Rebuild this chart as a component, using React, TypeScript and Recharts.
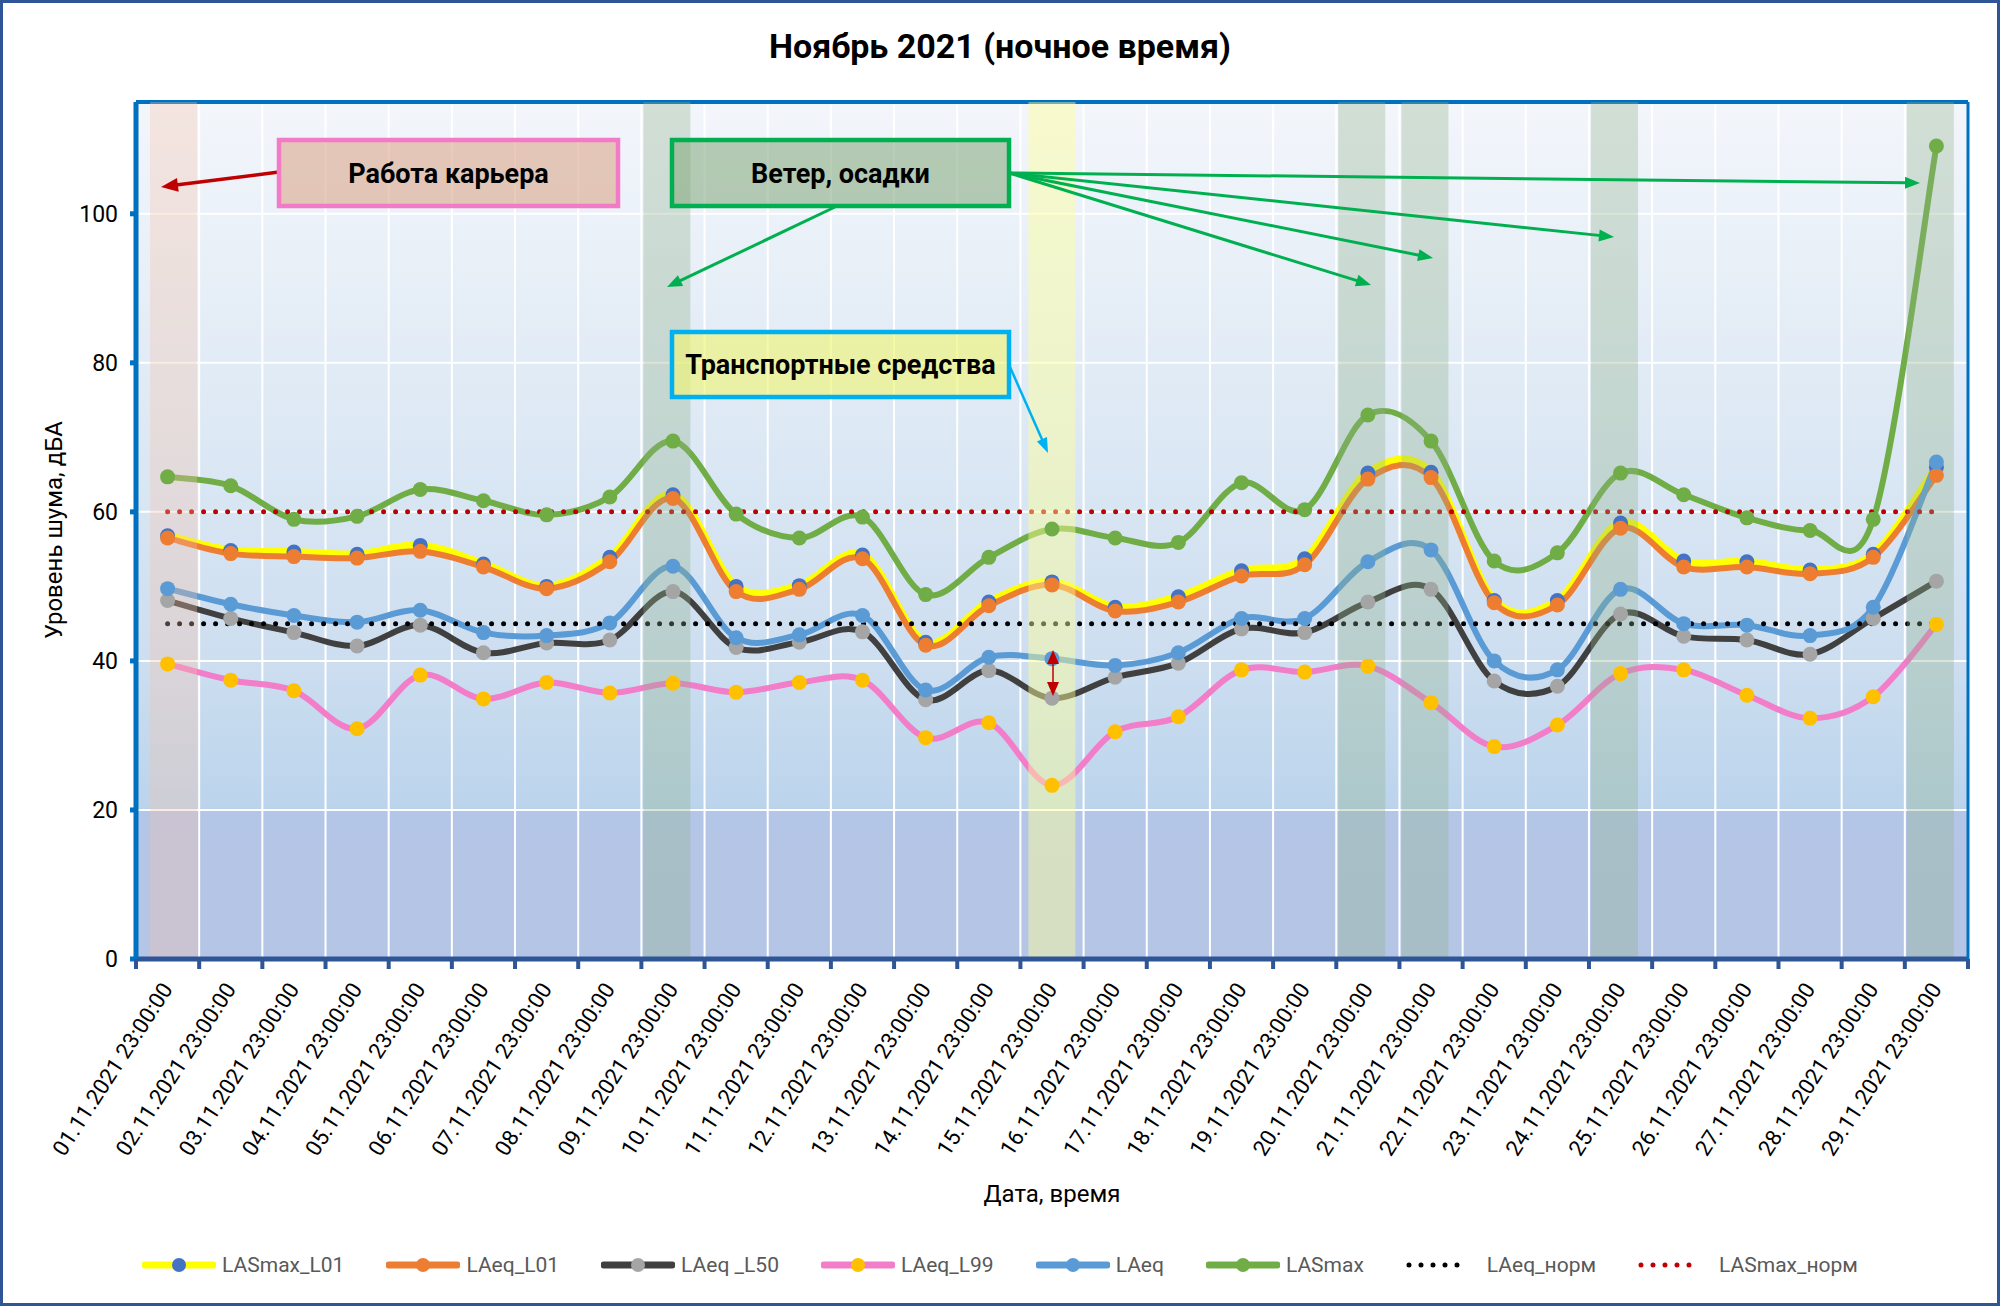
import React from 'react';
import { ComposedChart, Line, Bar, XAxis, YAxis, CartesianGrid, Legend, ReferenceLine } from 'recharts';

const FONT = 'Roboto, "Noto Sans", "DejaVu Sans", sans-serif';

// ---------- data ----------
const dates = [
  '01.11.2021 23:00:00', '02.11.2021 23:00:00', '03.11.2021 23:00:00', '04.11.2021 23:00:00',
  '05.11.2021 23:00:00', '06.11.2021 23:00:00', '07.11.2021 23:00:00', '08.11.2021 23:00:00',
  '09.11.2021 23:00:00', '10.11.2021 23:00:00', '11.11.2021 23:00:00', '12.11.2021 23:00:00',
  '13.11.2021 23:00:00', '14.11.2021 23:00:00', '15.11.2021 23:00:00', '16.11.2021 23:00:00',
  '17.11.2021 23:00:00', '18.11.2021 23:00:00', '19.11.2021 23:00:00', '20.11.2021 23:00:00',
  '21.11.2021 23:00:00', '22.11.2021 23:00:00', '23.11.2021 23:00:00', '24.11.2021 23:00:00',
  '25.11.2021 23:00:00', '26.11.2021 23:00:00', '27.11.2021 23:00:00', '28.11.2021 23:00:00',
  '29.11.2021 23:00:00',
];

const lasmaxL01 = [56.8, 54.8, 54.6, 54.3, 55.5, 53.0, 50.0, 53.9, 62.3, 50.0, 50.1, 54.2, 42.5, 47.9, 50.6, 47.2, 48.6, 52.1, 53.7, 65.2, 65.3, 48.1, 48.1, 58.5, 53.4, 53.3, 52.2, 54.3, 66.0];
const laeqL01 = [56.5, 54.4, 54.0, 53.8, 54.7, 52.6, 49.7, 53.3, 61.8, 49.3, 49.6, 53.7, 42.1, 47.4, 50.2, 46.7, 47.9, 51.4, 52.9, 64.4, 64.6, 47.8, 47.5, 57.8, 52.6, 52.6, 51.7, 53.9, 64.9];
const laeqL50 = [48.1, 45.7, 43.8, 42.0, 44.8, 41.1, 42.4, 42.8, 49.3, 41.8, 42.5, 43.9, 34.8, 38.7, 35.0, 37.8, 39.7, 44.3, 43.8, 47.9, 49.6, 37.3, 36.6, 46.3, 43.3, 42.8, 40.9, 45.7, 50.7];
const laeqL99 = [39.6, 37.4, 36.0, 30.9, 38.1, 34.9, 37.1, 35.7, 37.0, 35.8, 37.1, 37.4, 29.7, 31.7, 23.3, 30.5, 32.5, 38.8, 38.5, 39.3, 34.4, 28.5, 31.4, 38.3, 38.8, 35.4, 32.3, 35.2, 44.9];
const laeq = [49.7, 47.6, 46.1, 45.2, 46.8, 43.8, 43.4, 45.1, 52.7, 43.1, 43.5, 46.1, 36.1, 40.5, 40.3, 39.4, 41.1, 45.7, 45.7, 53.3, 54.9, 40.0, 38.8, 49.6, 45.0, 44.8, 43.4, 47.2, 66.7];
const lasmax = [64.7, 63.5, 59.0, 59.4, 63.0, 61.5, 59.6, 62.0, 69.5, 59.7, 56.5, 59.3, 48.9, 53.9, 57.7, 56.5, 55.9, 63.9, 60.3, 73.0, 69.5, 53.4, 54.5, 65.2, 62.3, 59.2, 57.5, 59.0, 109.1];
const laeqNorm = [45, 45, 45, 45, 45, 45, 45, 45, 45, 45, 45, 45, 45, 45, 45, 45, 45, 45, 45, 45, 45, 45, 45, 45, 45, 45, 45, 45, 45];
const lasmaxNorm = [60, 60, 60, 60, 60, 60, 60, 60, 60, 60, 60, 60, 60, 60, 60, 60, 60, 60, 60, 60, 60, 60, 60, 60, 60, 60, 60, 60, 60];

// highlight columns (quarry work / wind & precipitation / vehicles)
const windBand = [null, null, null, null, null, null, null, null, 115, null, null, null, null, null, null, null, null, null, null, 115, 115, null, null, 115, null, null, null, null, 115];
const trafficBand = [null, null, null, null, null, null, null, null, null, null, null, null, null, null, 115, null, null, null, null, null, null, null, null, null, null, null, null, null, null];
const quarryBand = [115, null, null, null, null, null, null, null, null, null, null, null, null, null, null, null, null, null, null, null, null, null, null, null, null, null, null, null, null];

const yTicks = [0, 20, 40, 60, 80, 100];
const Y_MAX = 115;

const data = dates.map((date, i) => ({
  date,
  lasmaxL01: lasmaxL01[i],
  laeqL01: laeqL01[i],
  laeqL50: laeqL50[i],
  laeqL99: laeqL99[i],
  laeq: laeq[i],
  lasmax: lasmax[i],
  laeqNorm: laeqNorm[i],
  lasmaxNorm: lasmaxNorm[i],
  windBand: windBand[i],
  trafficBand: trafficBand[i],
  quarryBand: quarryBand[i],
}));

// ---------- styles ----------
const lineSeries = [
  { key: 'lasmaxL01', name: 'LASmax_L01', stroke: '#FFFF00', marker: '#4472C4', width: 8 },
  { key: 'laeqL01', name: 'LAeq_L01', stroke: '#ED7D31', marker: '#ED7D31', width: 6 },
  { key: 'laeqL50', name: 'LAeq _L50', stroke: '#404040', marker: '#A5A5A5', width: 6 },
  { key: 'laeqL99', name: 'LAeq_L99', stroke: '#F27DC8', marker: '#FFC000', width: 6 },
  { key: 'laeq', name: 'LAeq', stroke: '#5B9BD5', marker: '#5B9BD5', width: 6 },
  { key: 'lasmax', name: 'LASmax', stroke: '#70AD47', marker: '#70AD47', width: 6 },
];
const normSeries = [
  { key: 'laeqNorm', name: 'LAeq_норм', stroke: '#000000' },
  { key: 'lasmaxNorm', name: 'LASmax_норм', stroke: '#C00000' },
];

// Excel-like smoothing (Catmull-Rom through the points)
const excelSmooth: any = (context: any) => {
  let pts: number[][] = [];
  return {
    areaStart() {},
    areaEnd() {},
    lineStart() { pts = []; },
    point(x: number, y: number) { pts.push([+x, +y]); },
    lineEnd() {
      const n = pts.length;
      if (!n) return;
      context.moveTo(pts[0][0], pts[0][1]);
      for (let i = 0; i < n - 1; i++) {
        const p0 = pts[i > 0 ? i - 1 : i];
        const p1 = pts[i];
        const p2 = pts[i + 1];
        const p3 = pts[i + 2 < n ? i + 2 : i + 1];
        context.bezierCurveTo(
          p1[0] + (p2[0] - p0[0]) / 6, p1[1] + (p2[1] - p0[1]) / 6,
          p2[0] - (p3[0] - p1[0]) / 6, p2[1] - (p3[1] - p1[1]) / 6,
          p2[0], p2[1],
        );
      }
    },
  };
};

const W = 2000;
const H = 1306;
const MARGIN = { top: 102, right: 28, bottom: 21, left: 56 };
const PLOT_W = W - MARGIN.left - 80 - MARGIN.right - 4;

const XTick = (props: any) => {
  const { x, y, payload, index } = props;
  const half = (payload && payload.offset) || PLOT_W / dates.length / 2;
  return (
    <g>
      <line x1={x - half} y1={y} x2={x - half} y2={y + 10} stroke="#2F5597" strokeWidth={4} />
      {index === dates.length - 1 && (
        <line x1={x + half} y1={y} x2={x + half} y2={y + 10} stroke="#2F5597" strokeWidth={4} />
      )}
      <text
        transform={`translate(${x + 6},${y + 30}) rotate(-57)`}
        textAnchor="end"
        fontSize={22}
        fontFamily={FONT}
        fill="#000"
      >
        {payload.value}
      </text>
    </g>
  );
};

const renderLegend = () => (
  <div
    style={{
      display: 'flex', justifyContent: 'center', alignItems: 'center', gap: 42, height: 40,
      fontFamily: FONT, fontSize: 21, color: '#595959', whiteSpace: 'pre',
    }}
  >
    {lineSeries.map((s) => (
      <div key={s.key} style={{ display: 'flex', alignItems: 'center' }}>
        <svg width={74} height={20}>
          <line x1={3} y1={10} x2={71} y2={10} stroke={s.stroke} strokeWidth={7} strokeLinecap="round" />
          <circle cx={37} cy={10} r={7} fill={s.marker} />
        </svg>
        <span style={{ marginLeft: 6 }}>{s.name}</span>
      </div>
    ))}
    {normSeries.map((s) => (
      <div key={s.key} style={{ display: 'flex', alignItems: 'center' }}>
        <svg width={66} height={20}>
          <line x1={3} y1={10} x2={63} y2={10} stroke={s.stroke} strokeWidth={5} strokeLinecap="round" strokeDasharray="0 12" />
        </svg>
        <span style={{ marginLeft: 15 }}>{s.name}</span>
      </div>
    ))}
  </div>
);

const Arrow = ({ x1, y1, x2, y2, color, width, head = 15, headW = 12 }: any) => {
  const dx = x2 - x1;
  const dy = y2 - y1;
  const len = Math.hypot(dx, dy);
  const ux = dx / len;
  const uy = dy / len;
  const bx = x2 - ux * head;
  const by = y2 - uy * head;
  const px = (-uy * headW) / 2;
  const py = (ux * headW) / 2;
  return (
    <g>
      <line x1={x1} y1={y1} x2={bx + ux * 2} y2={by + uy * 2} stroke={color} strokeWidth={width} />
      <polygon points={`${x2},${y2} ${bx + px},${by + py} ${bx - px},${by - py}`} fill={color} />
    </g>
  );
};

const NoteBox = ({ x, y, w, h, fill, fillOpacity, stroke, text }: any) => (
  <g>
    <rect x={x} y={y} width={w} height={h} fill={fill} fillOpacity={fillOpacity} stroke={stroke} strokeWidth={4.5} />
    <text x={x + w / 2} y={y + h / 2} dy="0.36em" textAnchor="middle" fontFamily={FONT} fontWeight="bold" fontSize={27} fill="#000">
      {text}
    </text>
  </g>
);

export default function App() {
  return (
    <div style={{ position: 'absolute', left: 0, top: 0, width: W, height: H, background: '#fff' }}>
      <ComposedChart width={W} height={H} data={data} margin={MARGIN} barGap={-41}>
        <defs>
          <linearGradient id="plotBg" x1="0" y1="0" x2="0" y2="1">
            <stop offset="0" stopColor="#F3F6FB" />
            <stop offset="0.35" stopColor="#DFEAF5" />
            <stop offset="0.65" stopColor="#CDDEF0" />
            <stop offset="0.824" stopColor="#BBD4EC" />
            <stop offset="0.826" stopColor="#B4C6E7" />
            <stop offset="1" stopColor="#B4C5E6" />
          </linearGradient>
        </defs>
        <CartesianGrid
          stroke="#FFFFFF"
          strokeWidth={2}
          fill="url(#plotBg)"
          fillOpacity={1}
          verticalCoordinatesGenerator={({ offset }: any) =>
            dates.map((_, i) => offset.left + (i * offset.width) / dates.length).concat([offset.left + offset.width])
          }
        />
        <XAxis
          dataKey="date"
          height={286}
          interval={0}
          tickSize={0}
          tickMargin={0}
          tickLine={false}
          axisLine={{ stroke: '#2F5597', strokeWidth: 5 }}
          tick={(p: any) => <XTick {...p} />}
        />
        <YAxis
          domain={[0, Y_MAX]}
          ticks={yTicks}
          width={80}
          tickSize={6}
          tickMargin={12}
          axisLine={{ stroke: '#0070C0', strokeWidth: 5 }}
          tickLine={{ stroke: '#0070C0', strokeWidth: 5 }}
          tick={{ fontSize: 23, fill: '#000', fontFamily: FONT }}
        />
        <YAxis
          yAxisId="right"
          orientation="right"
          width={4}
          domain={[0, Y_MAX]}
          tick={false}
          tickLine={false}
          axisLine={{ stroke: '#0070C0', strokeWidth: 3 }}
        />
        <ReferenceLine y={Y_MAX} stroke="#0070C0" strokeWidth={4} />
        {lineSeries.map((s) => (
          <Line
            key={s.key}
            dataKey={s.key}
            name={s.name}
            type={excelSmooth}
            stroke={s.stroke}
            strokeWidth={s.width}
            dot={{ r: 7.5, fill: s.marker, stroke: s.marker, strokeWidth: 0 }}
            activeDot={false}
            isAnimationActive={false}
          />
        ))}
        {normSeries.map((s) => (
          <Line
            key={s.key}
            dataKey={s.key}
            name={s.name}
            type="linear"
            stroke={s.stroke}
            strokeWidth={5}
            strokeLinecap="round"
            strokeDasharray="0 12"
            dot={false}
            activeDot={false}
            isAnimationActive={false}
          />
        ))}
        <Bar dataKey="windBand" barSize={47} fill="#8FB08A" fillOpacity={0.33} isAnimationActive={false} zIndex={450} />
        <Bar dataKey="trafficBand" barSize={47} fill="#FFFF96" fillOpacity={0.45} isAnimationActive={false} zIndex={450} />
        <Bar dataKey="quarryBand" barSize={47} fill="#F5C1A7" fillOpacity={0.32} isAnimationActive={false} zIndex={450} />
        <Legend
          verticalAlign="bottom"
          align="center"
          content={renderLegend}
          wrapperStyle={{ left: 0, width: W, height: 40 }}
        />
      </ComposedChart>
      <svg
        width={W}
        height={H}
        style={{ position: 'absolute', left: 0, top: 0, pointerEvents: 'none' }}
      >
        <rect x={1.5} y={1.5} width={W - 3} height={H - 3} fill="none" stroke="#2F5597" strokeWidth={3} />
        <text x={1000} y={58} textAnchor="middle" fontFamily={FONT} fontWeight="bold" fontSize={34} fill="#000">
          Ноябрь 2021 (ночное время)
        </text>
        <text transform="translate(62,530) rotate(-90)" textAnchor="middle" fontFamily={FONT} fontSize={24} fill="#000">
          Уровень шума, дБА
        </text>
        <text x={1052} y={1202} textAnchor="middle" fontFamily={FONT} fontSize={24} fill="#000">
          Дата, время
        </text>

        <Arrow x1={279} y1={172} x2={161} y2={187} color="#C00000" width={3.5} head={17} headW={14} />
        <NoteBox x={279} y={140} w={339} h={66} fill="#D8A082" fillOpacity={0.55} stroke="#F27AC6" text="Работа карьера" />

        <Arrow x1={835} y1={207} x2={667} y2={287} color="#00B050" width={3} />
        <Arrow x1={1009} y1={173} x2={1371} y2={285} color="#00B050" width={3} />
        <Arrow x1={1009} y1={173} x2={1433} y2={258} color="#00B050" width={3} />
        <Arrow x1={1009} y1={173} x2={1614} y2={237} color="#00B050" width={3} />
        <Arrow x1={1009} y1={173} x2={1920} y2={183} color="#00B050" width={3} />
        <NoteBox x={672} y={140} w={337} h={66} fill="#82A578" fillOpacity={0.55} stroke="#00B050" text="Ветер, осадки" />

        <Arrow x1={1010} y1={367} x2={1048} y2={453} color="#00B0F0" width={2.5} head={15} headW={11} />
        <NoteBox x={672} y={332} w={337} h={65} fill="#F0F578" fillOpacity={0.65} stroke="#00B0F0" text="Транспортные средства" />

        <Arrow x1={1053} y1={673} x2={1053} y2={650} color="#C00000" width={1.5} head={14} headW={12} />
        <Arrow x1={1053} y1={673} x2={1053} y2={696} color="#C00000" width={1.5} head={14} headW={12} />
      </svg>
    </div>
  );
}
